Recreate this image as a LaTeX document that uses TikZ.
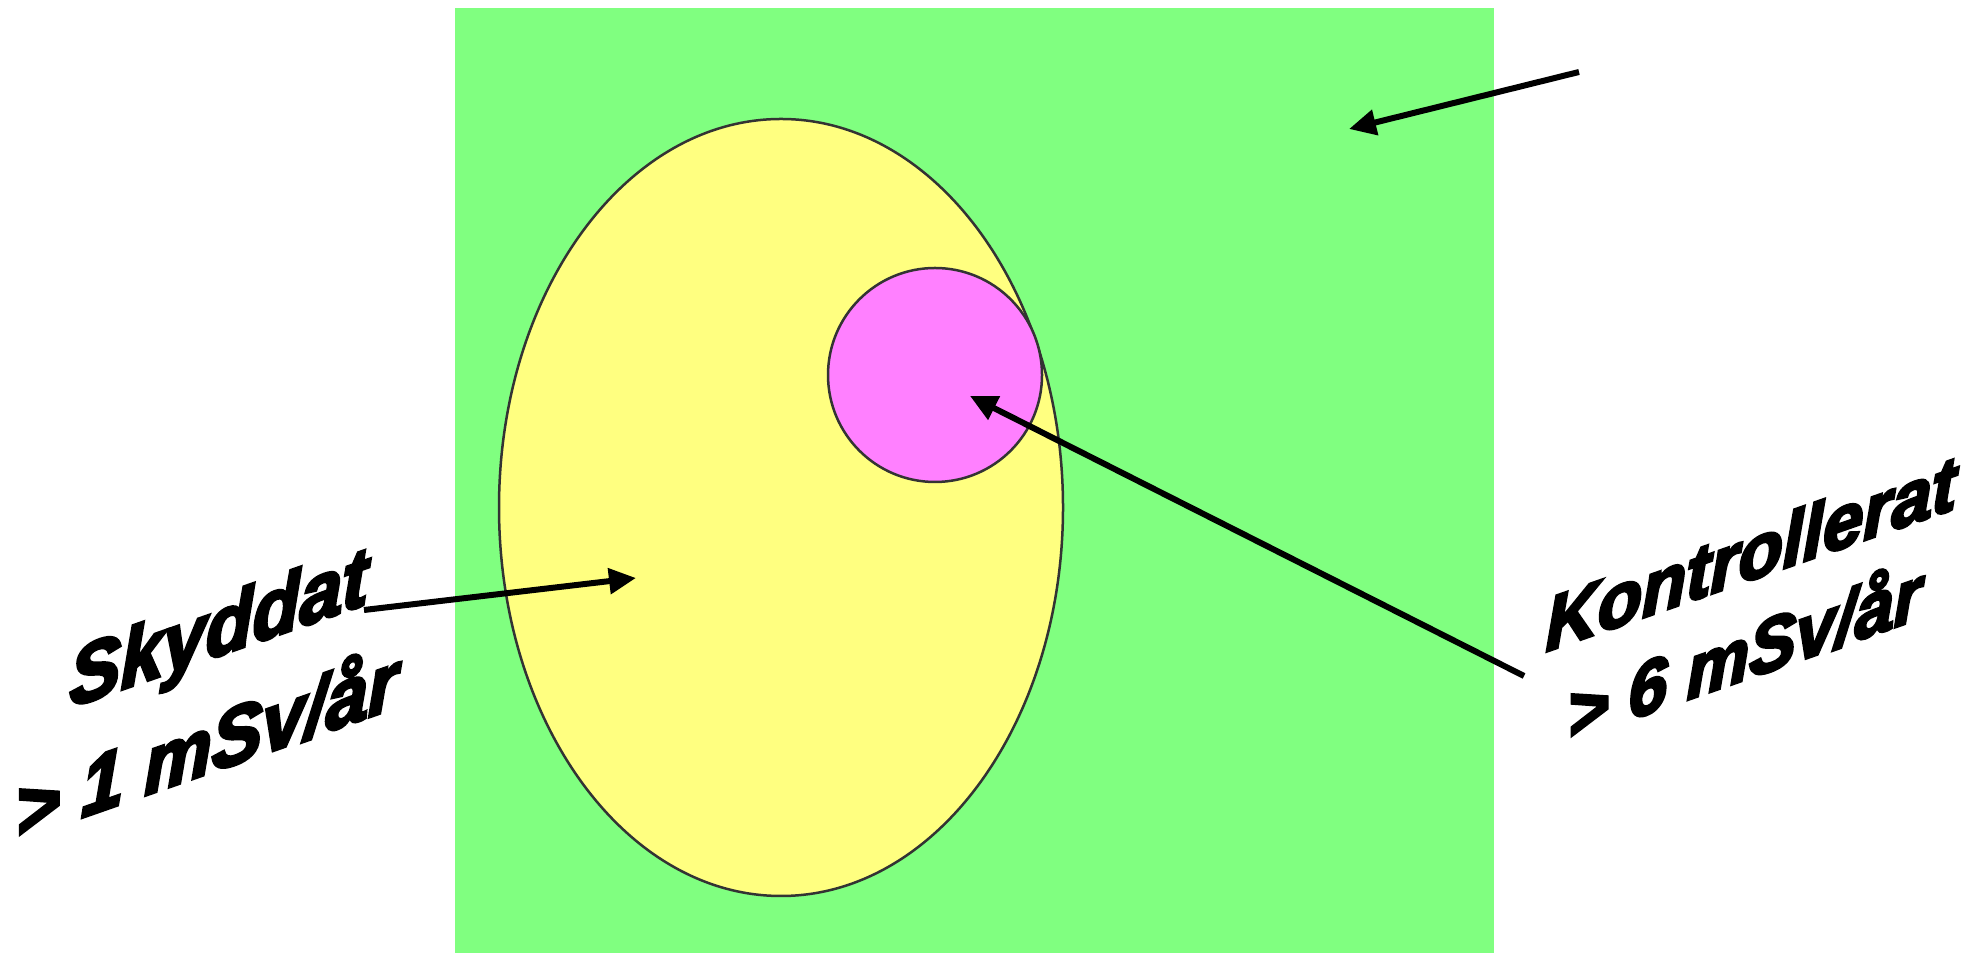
\documentclass[tikz,border=0pt]{standalone}
\usepackage{fontspec}
\usepackage{tikz}
\usepackage{xcolor}
\usetikzlibrary{arrows.meta}
\newfontfamily\labelfont{Liberation Sans}[FakeBold=4]
\definecolor{zonegreen}{RGB}{128,255,128}
\definecolor{zoneyellow}{RGB}{255,255,128}
\definecolor{zonepink}{RGB}{255,128,255}
\tikzset{
  zonelabel/.style={anchor=base west,inner sep=0pt,yslant=0.35,yscale=1.08,font=\labelfont\bfseries\itshape\fontsize{20}{24}\selectfont},
  pointer/.style={line width=0.6mm,-{Triangle[length=2.7mm,width=2.5mm]}}
}

\begin{document}
\begin{tikzpicture}
\useasboundingbox (0,0) rectangle (19.78,9.53);
\fill[zonegreen] (4.55,0) rectangle (14.94,9.45);
\draw[fill=zoneyellow,draw=black!80,line width=0.25mm] (7.81,4.455) ellipse (2.82 and 3.885);
\draw[fill=zonepink,draw=black!80,line width=0.25mm] (9.35,5.78) circle (1.07);
\node[zonelabel,scale=1.09] (skyddat) at (0.69,2.45) {Skyddat};
\node[zonelabel,scale=1.08] (skyddatdos) at (0.15,1.12) {> 1 mSv/år};
\node[zonelabel,xscale=1.03] (kontroll) at (15.45,3.01) {Kontrollerat};
\node[zonelabel] (kontrolldos) at (15.67,2.11) {> 6 mSv/år};
\coordinate (topTail) at (15.79,8.81);
\coordinate (topTip) at (13.49,8.24);
\coordinate (skyTail) at (3.64,3.43);
\coordinate (skyTip) at (6.36,3.75);
\coordinate (konTail) at (15.24,2.77);
\coordinate (konTip) at (9.70,5.57);
\draw[pointer] (topTail) -- (topTip);
\draw[pointer] (skyTail) -- (skyTip);
\draw[pointer] (konTail) -- (konTip);
\end{tikzpicture}
\end{document}
